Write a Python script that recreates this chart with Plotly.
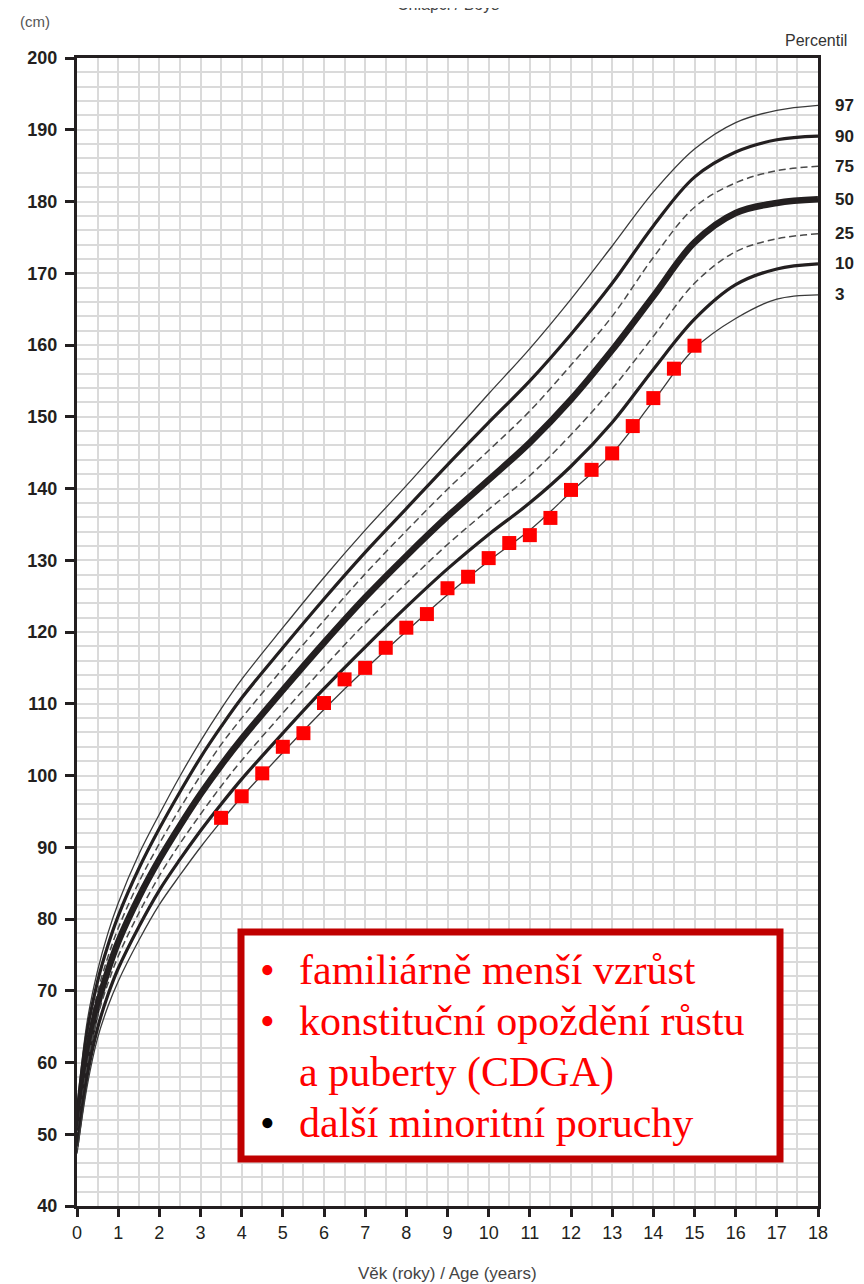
import plotly.graph_objects as go

# ---------------- data ----------------
ages = [0, 0.25, 0.5, 0.75, 1, 1.5, 2, 2.5, 3, 3.5, 4, 5, 6, 7, 8, 9, 10, 11, 12, 13, 14, 15, 16, 17, 18]

p97 = [53.7, 65.8, 72.8, 78.0, 82.2, 89.0, 94.6, 99.9, 104.8, 109.3, 113.4, 120.6, 127.6, 134.2, 140.4, 146.8, 153.2, 159.5, 166.4, 173.8, 181.3, 187.3, 191.0, 192.7, 193.4]
p90 = [52.7, 64.4, 71.3, 76.3, 80.4, 87.0, 92.6, 97.7, 102.5, 106.8, 110.8, 117.8, 124.6, 131.1, 137.2, 143.3, 149.2, 155.0, 161.5, 168.6, 176.6, 183.4, 186.9, 188.6, 189.1]
p75 = [51.6, 62.9, 69.8, 74.7, 78.7, 85.1, 90.5, 95.4, 100.0, 104.3, 108.0, 114.9, 121.6, 128.1, 134.1, 139.9, 145.3, 150.8, 157.2, 164.0, 172.2, 179.2, 182.6, 184.3, 184.9]
p50 = [50.5, 61.0, 68.0, 72.8, 76.8, 83.0, 88.3, 93.0, 97.4, 101.4, 105.1, 111.9, 118.5, 124.8, 130.6, 136.1, 141.2, 146.4, 152.4, 159.3, 166.8, 174.3, 178.4, 179.8, 180.3]
p25 = [49.3, 59.6, 66.4, 71.0, 74.8, 80.8, 86.0, 90.5, 94.6, 98.5, 102.1, 108.7, 115.1, 121.2, 126.8, 132.2, 137.1, 141.8, 147.5, 153.9, 161.2, 168.6, 173.0, 174.8, 175.5]
p10 = [48.3, 58.2, 64.8, 69.4, 73.1, 78.9, 84.0, 88.3, 92.3, 96.0, 99.5, 105.9, 112.1, 117.9, 123.5, 128.8, 133.6, 138.0, 143.1, 149.2, 156.6, 163.6, 168.4, 170.6, 171.3]
p3 = [47.3, 56.8, 63.4, 67.8, 71.3, 77.0, 82.0, 86.1, 90.0, 93.6, 97.0, 103.2, 109.2, 114.8, 120.1, 125.2, 129.9, 134.2, 139.5, 144.9, 152.2, 159.5, 163.7, 166.4, 167.0]

percentile_labels = ["97", "90", "75", "50", "25", "10", "3"]

patient_age = [3.5, 4, 4.5, 5, 5.5, 6, 6.5, 7, 7.5, 8, 8.5, 9, 9.5, 10, 10.5, 11, 11.5, 12, 12.5, 13, 13.5, 14, 14.5, 15]
patient_height = [94.1, 97.1, 100.3, 104.0, 105.9, 110.1, 113.4, 115.0, 117.8, 120.6, 122.5, 126.1, 127.7, 130.3, 132.4, 133.5, 135.9, 139.8, 142.6, 144.9, 148.7, 152.6, 156.7, 159.9]

x_ticks = list(range(0, 19))
y_ticks = list(range(40, 201, 10))

box_lines = ["familiárně menší vzrůst", "konstituční opoždění růstu", "a puberty (CDGA)", "další minoritní poruchy"]
bullet_colors = ["#ff0000", "#ff0000", None, "#000000"]

# ---------------- figure ----------------
INK = "#231f20"
styles = {
    "97": dict(width=1.3, color="#3a3a3a", dash="solid"),
    "90": dict(width=3.2, color=INK, dash="solid"),
    "75": dict(width=1.5, color="#4a4a4a", dash="7px,4px"),
    "50": dict(width=6.5, color=INK, dash="solid"),
    "25": dict(width=1.5, color="#4a4a4a", dash="7px,4px"),
    "10": dict(width=3.2, color=INK, dash="solid"),
    "3": dict(width=1.3, color="#3a3a3a", dash="solid"),
}
series = dict(zip(percentile_labels, [p97, p90, p75, p50, p25, p10, p3]))

fig = go.Figure()
for lab in percentile_labels:
    fig.add_trace(go.Scatter(x=ages, y=series[lab], mode="lines",
                             line=dict(shape="spline", smoothing=1.0, **styles[lab]),
                             hoverinfo="skip", showlegend=False))

fig.add_trace(go.Scatter(x=patient_age, y=patient_height, mode="markers",
                         marker=dict(symbol="square", size=14, color="#ff0000", line=dict(width=0)),
                         showlegend=False))

# page is offset by the 8px body margin, so the figure is 8px smaller
OFF = 8
W, H = 856, 1276
L, R, T, B = 69, 46, 50, 78
PW, PH = W - L - R, H - T - B

def px(x):
    # page pixel -> paper x
    return (x - OFF - L) / PW

def py(y):
    # page pixel -> paper y
    return (H - B - (y - OFF)) / PH

fig.update_layout(
    width=W, height=H,
    margin=dict(l=L, r=R, t=T, b=B),
    plot_bgcolor="white", paper_bgcolor="white",
    xaxis=dict(range=[0, 18], tickvals=x_ticks, ticktext=[str(v) for v in x_ticks],
               showgrid=True, gridcolor="#dadada", gridwidth=1.5,
               minor=dict(dtick=0.5, showgrid=True, gridcolor="#dadada", gridwidth=1.5),
               ticks="outside", ticklen=8, tickwidth=2.5, tickcolor=INK,
               showline=True, linecolor=INK, linewidth=3, mirror=True,
               tickfont=dict(family="Liberation Sans Narrow, Arial Narrow, Liberation Sans", size=18, color=INK),
               zeroline=False, fixedrange=True),
    yaxis=dict(range=[40, 200], tickvals=y_ticks, ticktext=["<b>%d</b>" % v for v in y_ticks],
               showgrid=True, gridcolor="#dadada", gridwidth=1.5,
               minor=dict(dtick=2, showgrid=True, gridcolor="#dadada", gridwidth=1.5),
               ticks="outside", ticklen=9, tickwidth=3, tickcolor=INK,
               showline=True, linecolor=INK, linewidth=3, mirror=True,
               tickfont=dict(family="Liberation Sans, Arial", size=18, color=INK), ticklabelstandoff=4,
               zeroline=False, fixedrange=True),
    showlegend=False,
)

# percentile labels at right end of curves
for lab in percentile_labels:
    fig.add_annotation(x=18, y=series[lab][-1], xref="x", yref="y", text="<b>%s</b>" % lab,
                       showarrow=False, xanchor="left", yanchor="middle", xshift=15,
                       font=dict(family="Liberation Sans, Arial", size=17, color=INK))

fig.add_annotation(x=px(783), y=py(40), xref="paper", yref="paper", text="Percentil",
                   showarrow=False, xanchor="left", yanchor="middle",
                   font=dict(family="Liberation Sans, Arial", size=16, color="#333333"))
fig.add_annotation(x=px(18), y=py(21), xref="paper", yref="paper", text="(cm)",
                   showarrow=False, xanchor="left", yanchor="middle",
                   font=dict(family="Liberation Sans, Arial", size=15, color="#555555"))
fig.add_annotation(x=px(448), y=py(4), xref="paper", yref="paper", text="Chlapci / Boys",
                   showarrow=False, xanchor="center", yanchor="middle",
                   font=dict(family="Liberation Sans, Arial", size=16, color="#444444"))
fig.add_annotation(x=px(447), y=py(1273), xref="paper", yref="paper", text="Věk (roky) / Age (years)",
                   showarrow=False, xanchor="center", yanchor="middle",
                   font=dict(family="Liberation Sans Narrow, Arial Narrow, Liberation Sans", size=17, color="#444444"))

# annotation box
fig.add_shape(type="rect", xref="paper", yref="paper", x0=px(241), x1=px(780), y0=py(1159), y1=py(932),
              line=dict(color="#c00000", width=7), fillcolor="white", layer="above")

line_y = [970, 1021, 1072, 1123]
for i, txt in enumerate(box_lines):
    fig.add_annotation(x=px(297), y=py(line_y[i]), xref="paper", yref="paper", text=txt,
                       showarrow=False, xanchor="left", yanchor="middle",
                       font=dict(family="Liberation Serif, Times New Roman", size=42, color="#ff0000"))
    if bullet_colors[i]:
        fig.add_annotation(x=px(267), y=py(line_y[i]), xref="paper", yref="paper", text="•",
                           showarrow=False, xanchor="center", yanchor="middle",
                           font=dict(family="Liberation Serif, Times New Roman", size=42, color=bullet_colors[i]))

fig.write_html("out.html")
